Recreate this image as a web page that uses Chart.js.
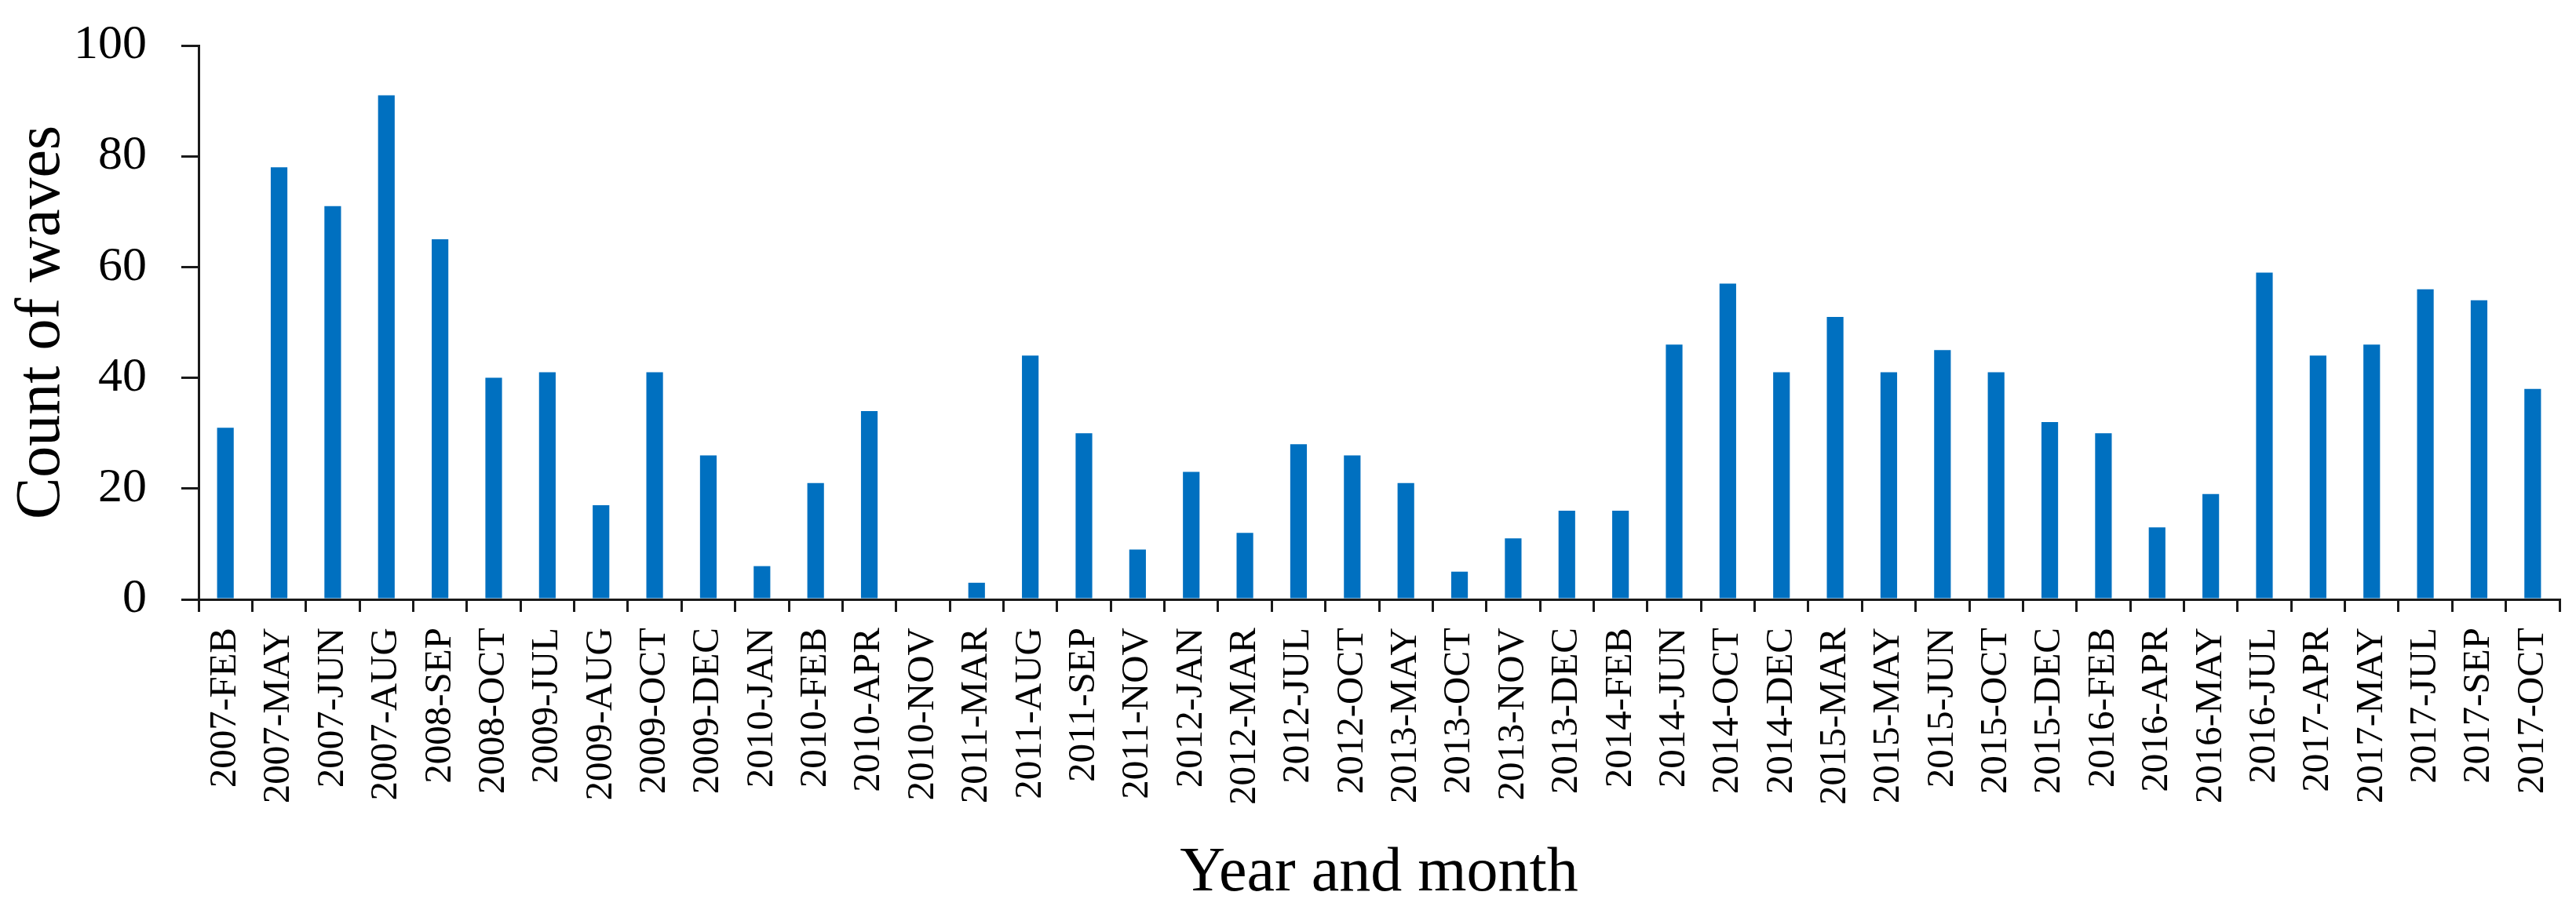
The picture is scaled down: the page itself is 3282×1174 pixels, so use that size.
<!DOCTYPE html>
<html>
<head>
<meta charset="utf-8">
<script src="https://cdn.jsdelivr.net/npm/chart.js@4.4.1/dist/chart.umd.min.js"></script>
<style>
  html, body { margin: 0; padding: 0; background: #ffffff; }
  #wrap { width: 3282px; height: 1174px; position: relative; }
</style>
</head>
<body>
<div id="wrap"><canvas id="chart" width="3282" height="1174"></canvas></div>
<script>
// ---- Data ----
const categories = [
  "2007-FEB", "2007-MAY", "2007-JUN", "2007-AUG", "2008-SEP", "2008-OCT",
  "2009-JUL", "2009-AUG", "2009-OCT", "2009-DEC", "2010-JAN", "2010-FEB",
  "2010-APR", "2010-NOV", "2011-MAR", "2011-AUG", "2011-SEP", "2011-NOV",
  "2012-JAN", "2012-MAR", "2012-JUL", "2012-OCT", "2013-MAY", "2013-OCT",
  "2013-NOV", "2013-DEC", "2014-FEB", "2014-JUN", "2014-OCT", "2014-DEC",
  "2015-MAR", "2015-MAY", "2015-JUN", "2015-OCT", "2015-DEC", "2016-FEB",
  "2016-APR", "2016-MAY", "2016-JUL", "2017-APR", "2017-MAY", "2017-JUL",
  "2017-SEP", "2017-OCT"
];
const waveCounts = [
  31, 78, 71, 91, 65, 40,
  41, 17, 41, 26, 6, 21,
  34, 0, 3, 44, 30, 9,
  23, 12, 28, 26, 21, 5,
  11, 16, 16, 46, 57, 41,
  51, 41, 45, 41, 32, 30,
  13, 19, 59, 44, 46, 56,
  54, 38
];
const yTickValues = [0, 20, 40, 60, 80, 100];
const xAxisTitle = "Year and month";
const yAxisTitle = "Count of waves";

// ---- Chart ----
const FONT = "'Liberation Serif', 'Times New Roman', serif";
const AXIS_COLOR = "#1a1a1a";

const ctx = document.getElementById("chart").getContext("2d");
new Chart(ctx, {
  type: "bar",
  data: {
    labels: categories,
    datasets: [{
      label: yAxisTitle,
      data: waveCounts,
      backgroundColor: "#0070C0",
      borderWidth: 0,
      categoryPercentage: 1.0,
      barPercentage: 0.31
    }]
  },
  options: {
    responsive: false,
    animation: false,
    devicePixelRatio: 1,
    layout: { padding: { top: 58, right: 21, bottom: 0, left: 0 } },
    plugins: {
      legend: { display: false },
      tooltip: { enabled: false },
      title: { display: false }
    },
    scales: {
      x: {
        type: "category",
        offset: true,
        grid: {
          offset: true,
          drawOnChartArea: false,
          drawTicks: true,
          tickLength: 16,
          color: AXIS_COLOR,
          lineWidth: 3
        },
        border: { display: true, color: AXIS_COLOR, width: 3 },
        ticks: {
          autoSkip: false,
          minRotation: 90,
          maxRotation: 90,
          padding: 20,
          color: "#000",
          font: { family: FONT, size: 49 }
        },
        title: {
          display: true,
          text: xAxisTitle,
          color: "#000",
          font: { family: FONT, size: 80 },
          padding: { top: 0, bottom: 12 }
        },
        afterFit: (scale) => {
          scale.height = 1174 - 764;
          scale.paddingLeft = 0;
          scale.paddingRight = 0;
        }
      },
      y: {
        min: 0,
        max: 100,
        afterBuildTicks: (scale) => { scale.ticks = yTickValues.map(v => ({ value: v })); },
        grid: {
          drawOnChartArea: false,
          drawTicks: true,
          tickLength: 22,
          color: AXIS_COLOR,
          lineWidth: 3
        },
        border: { display: true, color: AXIS_COLOR, width: 3 },
        ticks: {
          padding: 44,
          color: "#000",
          font: { family: FONT, size: 62 }
        },
        title: {
          display: true,
          text: yAxisTitle,
          color: "#000",
          font: { family: FONT, size: 80 },
          padding: { top: 6, bottom: 0 }
        },
        afterFit: (scale) => {
          scale.width = 253;
          scale.paddingTop = 0;
          scale.paddingBottom = 0;
        }
      }
    }
  }
});
</script>
</body>
</html>
